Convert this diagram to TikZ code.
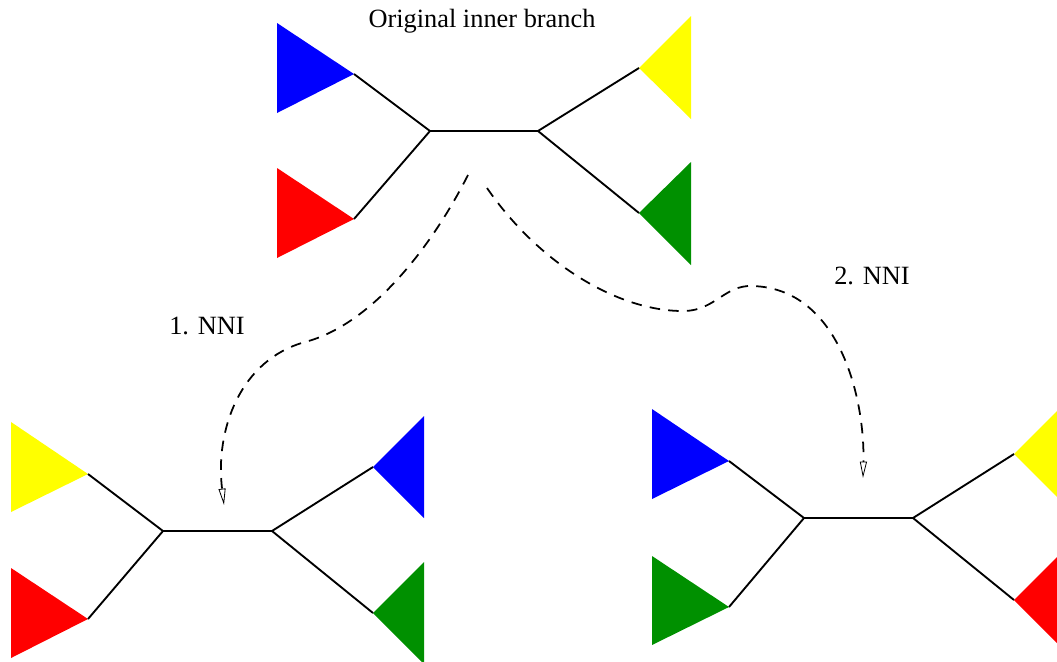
\documentclass[tikz,border=0pt]{standalone}
\usepackage{fontspec}
\setmainfont{Liberation Serif}
\usetikzlibrary{arrows.meta}
\definecolor{figgreen}{RGB}{0,144,0}
\definecolor{figyellow}{RGB}{255,255,0}
\tikzset{
  branch/.style={line width=1.6pt, line join=round},
  nni/.style={line width=1.5pt, dash pattern=on 9pt off 7pt,
    -{Triangle[open,length=14pt,width=6pt,line width=0.7pt]}},
  lbl/.style={font=\fontsize{22.5}{27}\selectfont}
}
\begin{document}
\begin{tikzpicture}[x=0.03cm,y=-0.03cm]
            \useasboundingbox (0,0) rectangle (1057,661);
            \clip (0,0) rectangle (1057,661);
            \node[lbl] (title) at (482,21) {Original inner branch};
            \node[lbl] (step1) at (207,326) {1. NNI};
            \node[lbl] (step2) at (872,276) {2. NNI};

            % original tree
            \coordinate (oL) at (430,131); \coordinate (oR) at (538,131);
            \coordinate (oBlue) at (354,74); \coordinate (oRed) at (354,219);
            \coordinate (oYellow) at (639,68); \coordinate (oGreen) at (639,213);
            \fill[blue] (oBlue) -- ++(-77,-51) -- ++(0,90) -- cycle;
            \fill[red] (oRed) -- ++(-77,-51) -- ++(0,90) -- cycle;
            \fill[figyellow] (oYellow) -- ++(52,-52) -- ++(0,103) -- cycle;
            \fill[figgreen] (oGreen) -- ++(52,-51) -- ++(0,103) -- cycle;
            \draw[branch] (oBlue) -- (oL) -- (oR) -- (oYellow);
            \draw[branch] (oRed) -- (oL); \draw[branch] (oR) -- (oGreen);

            % after first NNI
            \coordinate (aL) at (163,531); \coordinate (aR) at (272,531);
            \coordinate (aYellow) at (88,474); \coordinate (aRed) at (88,619);
            \coordinate (aBlue) at (373,467); \coordinate (aGreen) at (373,613);
            \fill[figyellow] (aYellow) -- ++(-77,-52) -- ++(0,90) -- cycle;
            \fill[red] (aRed) -- ++(-77,-51) -- ++(0,90) -- cycle;
            \fill[blue] (aBlue) -- ++(51,-51) -- ++(0,102) -- cycle;
            \fill[figgreen] (aGreen) -- ++(51,-51) -- ++(0,102) -- cycle;
            \draw[branch] (aYellow) -- (aL) -- (aR) -- (aBlue);
            \draw[branch] (aRed) -- (aL); \draw[branch] (aR) -- (aGreen);

            % after second NNI
            \coordinate (bL) at (804,518); \coordinate (bR) at (913,518);
            \coordinate (bBlue) at (729,461); \coordinate (bGreen) at (729,607);
            \coordinate (bYellow) at (1014,454); \coordinate (bRed) at (1014,600);
            \fill[blue] (bBlue) -- ++(-77,-52) -- ++(0,90) -- cycle;
            \fill[figgreen] (bGreen) -- ++(-77,-51) -- ++(0,89) -- cycle;
            \fill[figyellow] (bYellow) -- ++(52,-52) -- ++(0,104) -- cycle;
            \fill[red] (bRed) -- ++(52,-52) -- ++(0,104) -- cycle;
            \draw[branch] (bBlue) -- (bL) -- (bR) -- (bYellow);
            \draw[branch] (bGreen) -- (bL); \draw[branch] (bR) -- (bRed);

            % moves
            \coordinate (from1) at (468,175); \coordinate (to1) at (224,505);
            \coordinate (from2) at (487,188); \coordinate (to2) at (863,478);
            \draw[nni] (from1) .. controls (430,250) and (370,325) .. (305,342)
              .. controls (240,360) and (215,430) .. (to1);
            \draw[nni] (from2) .. controls (540,265) and (620,312) .. (685,311)
              .. controls (715,310) and (725,285) .. (752,286)
              .. controls (840,288) and (865,400) .. (to2);
        \end{tikzpicture}
\end{document}
